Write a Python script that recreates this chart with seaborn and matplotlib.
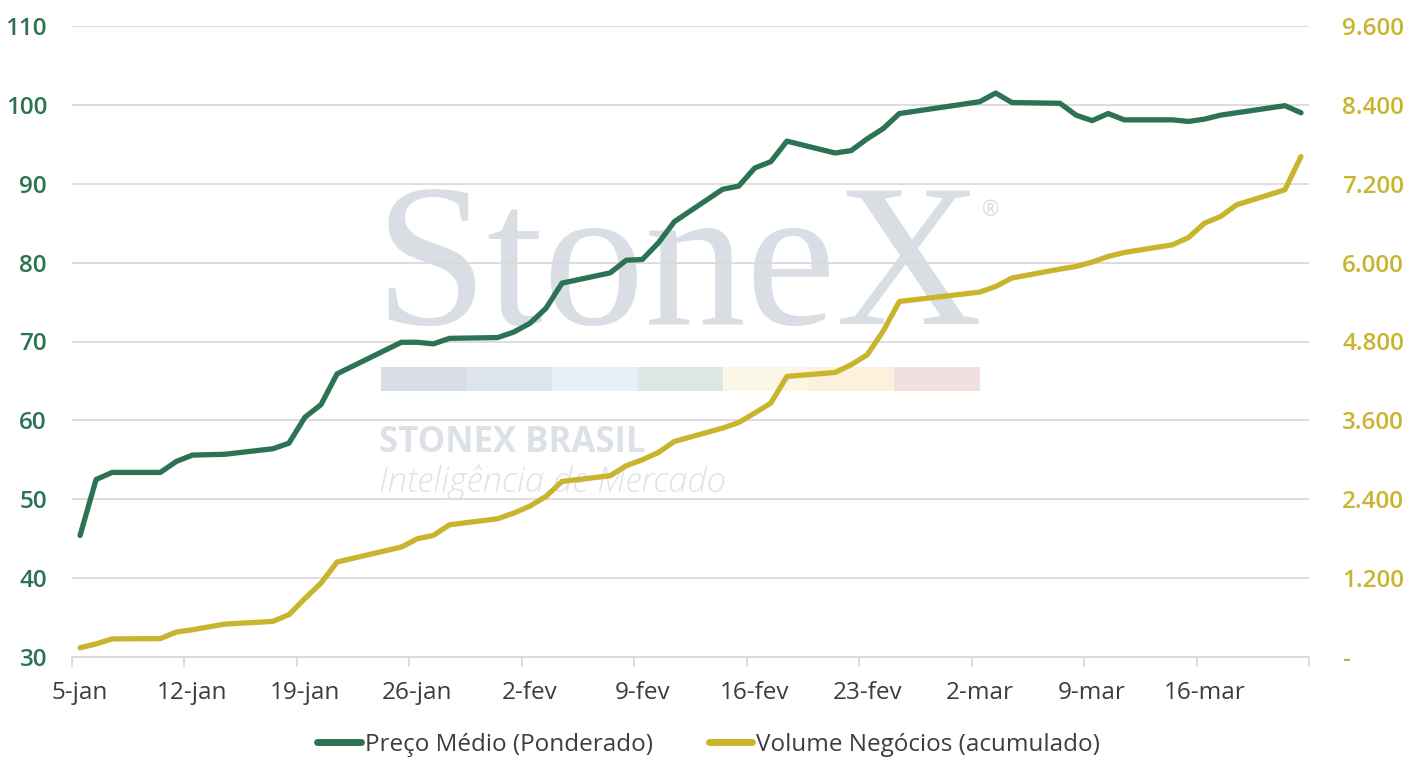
import matplotlib
matplotlib.use("Agg")
import matplotlib.pyplot as plt
import matplotlib.dates as mdates
import matplotlib.ticker as mticker
from matplotlib.patches import Rectangle
from matplotlib.lines import Line2D
import seaborn as sns
import pandas as pd

# =========================================================
# DATA
# =========================================================
dates = [
    "2022-01-05", "2022-01-06", "2022-01-07", "2022-01-10", "2022-01-11", "2022-01-12", "2022-01-14",
    "2022-01-17", "2022-01-18", "2022-01-19", "2022-01-20", "2022-01-21",
    "2022-01-25", "2022-01-26", "2022-01-27", "2022-01-28",
    "2022-01-31", "2022-02-01", "2022-02-02", "2022-02-03", "2022-02-04",
    "2022-02-07", "2022-02-08", "2022-02-09", "2022-02-10", "2022-02-11",
    "2022-02-14", "2022-02-15", "2022-02-16", "2022-02-17", "2022-02-18",
    "2022-02-21", "2022-02-22", "2022-02-23", "2022-02-24", "2022-02-25",
    "2022-03-02", "2022-03-03", "2022-03-04",
    "2022-03-07", "2022-03-08", "2022-03-09", "2022-03-10", "2022-03-11",
    "2022-03-14", "2022-03-15", "2022-03-16", "2022-03-17", "2022-03-18",
    "2022-03-21", "2022-03-22",
]
preco_medio = [
    45.4, 52.5, 53.4, 53.4, 54.8, 55.6, 55.7,
    56.4, 57.1, 60.4, 62.0, 65.9,
    69.9, 69.9, 69.7, 70.4,
    70.5, 71.2, 72.3, 74.2, 77.4,
    78.7, 80.3, 80.4, 82.5, 85.2,
    89.3, 89.7, 92.0, 92.8, 95.4,
    93.9, 94.2, 95.7, 97.0, 98.9,
    100.4, 101.5, 100.3,
    100.2, 98.7, 98.0, 98.9, 98.1,
    98.1, 97.9, 98.2, 98.7, 99.0,
    99.9, 99.0,
]
volume_acum = [
    140, 200, 275, 280, 380, 415, 500,
    542, 643, 890, 1125, 1445,
    1673, 1799, 1850, 2012,
    2103, 2190, 2295, 2443, 2671,
    2758, 2910, 3001, 3112, 3279,
    3483, 3568, 3711, 3863, 4268,
    4329, 4446, 4598, 4960, 5409,
    5551, 5637, 5765,
    5902, 5941, 6008, 6094, 6154,
    6271, 6382, 6601, 6702, 6880,
    7108, 7614,
]
tick_dates = ["2022-01-05", "2022-01-12", "2022-01-19", "2022-01-26", "2022-02-02", "2022-02-09",
              "2022-02-16", "2022-02-23", "2022-03-02", "2022-03-09", "2022-03-16"]
tick_labels = ["5-jan", "12-jan", "19-jan", "26-jan", "2-fev", "9-fev",
               "16-fev", "23-fev", "2-mar", "9-mar", "16-mar"]
left_ticks = [30, 40, 50, 60, 70, 80, 90, 100, 110]
right_ticks = [0, 1200, 2400, 3600, 4800, 6000, 7200, 8400, 9600]
series_names = ["Preço Médio (Ponderado)", "Volume Negócios (acumulado)"]

# =========================================================
# STYLE
# =========================================================
GREEN = "#2b7352"
YELLOW = "#c9b42e"
GRID = "#dcd9da"
TEXT = "#3d3d3d"
WM = "#d9dee5"
FS = 17.5

sns.set_theme(style="white")
plt.rcParams["font.family"] = ["Open Sans", "DejaVu Sans"]

df = pd.DataFrame({"data": pd.to_datetime(dates), "preco": preco_medio, "volume": volume_acum})

W, H = 1417, 768
fig = plt.figure(figsize=(W / 100, H / 100), dpi=100)
ax = fig.add_axes([72 / W, 1 - 657 / H, (1309 - 72) / W, (657 - 26) / H])

# =========================================================
# WATERMARK
# =========================================================
ax.text(375 / W, 1 - 324 / H, "StoneX", transform=fig.transFigure, family="Liberation Serif",
        fontsize=146, color=WM, ha="left", va="baseline", zorder=0.2)
ax.text(982 / W, 1 - 216 / H, "®", transform=fig.transFigure, fontsize=15, color=WM,
        ha="left", va="baseline", zorder=0.2)
band = ["#d8dde5", "#dee4ec", "#e9eff7", "#dfe7e2", "#fbf7e6", "#fdf0dc", "#f2dfe0"]
bw = (980 - 381) / len(band)
for i, c in enumerate(band):
    ax.add_patch(Rectangle(((381 + i * bw) / W, 1 - 391 / H), bw / W, 24 / H,
                           transform=fig.transFigure, color=c, lw=0, zorder=0.2, clip_on=False))
ax.text(379 / W, 1 - 452 / H, "STONEX BRASIL", transform=fig.transFigure, fontsize=25,
        fontweight="bold", color="#dce1e8", ha="left", va="baseline", zorder=0.2)
ax.text(379 / W, 1 - 492 / H, "Inteligência de Mercado", transform=fig.transFigure, fontsize=25,
        fontweight="light", fontstyle="italic", color="#dfe3e9", ha="left", va="baseline", zorder=0.2)

# =========================================================
# LINES
# =========================================================
sns.lineplot(data=df, x="data", y="preco", ax=ax, color=GREEN, linewidth=3.8,
             solid_capstyle="round", solid_joinstyle="round", zorder=3)
ax2 = ax.twinx()
sns.lineplot(data=df, x="data", y="volume", ax=ax2, color=YELLOW, linewidth=3.8,
             solid_capstyle="round", solid_joinstyle="round", zorder=3)

# =========================================================
# AXES
# =========================================================
start = pd.Timestamp(dates[0]) - pd.Timedelta(hours=12)
end = pd.Timestamp(dates[-1]) + pd.Timedelta(hours=12)
ax.set_xlim(start, end)
bounds = pd.date_range(start, end, freq="7D")
ax.xaxis.set_major_locator(mticker.FixedLocator(mdates.date2num(bounds)))
ax.xaxis.set_major_formatter(mticker.NullFormatter())
ax.xaxis.set_minor_locator(mticker.FixedLocator(mdates.date2num(pd.to_datetime(tick_dates))))
ax.xaxis.set_minor_formatter(mticker.FixedFormatter(tick_labels))
ax.tick_params(axis="x", which="major", length=7, width=1.3, color=GRID, bottom=True)
ax.tick_params(axis="x", which="minor", length=0, pad=17, labelsize=FS, labelcolor=TEXT, bottom=True)

ax.set_ylim(30, 110)
ax.set_yticks(left_ticks, labels=[str(v) for v in left_ticks], fontweight="semibold")
ax.tick_params(axis="y", length=0, pad=18, labelsize=FS, labelcolor=GREEN)

ax2.set_ylim(0, 9600)
ax2.set_yticks(right_ticks, labels=["-" if v == 0 else f"{v:,}".replace(",", ".") for v in right_ticks],
               fontweight="semibold")
ax2.tick_params(axis="y", length=0, pad=24, labelsize=FS, labelcolor=YELLOW)

ax.grid(axis="y", color=GRID, linewidth=1.3)
ax.set_axisbelow(True)
for a in (ax, ax2):
    a.set_xlabel("")
    a.set_ylabel("")
    for s in ("top", "left", "right"):
        a.spines[s].set_visible(False)
    a.spines["bottom"].set_color(GRID)
    a.spines["bottom"].set_linewidth(1.3)

# =========================================================
# LEGEND
# =========================================================
handles = [Line2D([], [], color=GREEN, lw=5, solid_capstyle="round"),
           Line2D([], [], color=YELLOW, lw=5, solid_capstyle="round")]
fig.legend(handles, series_names, loc="center", bbox_to_anchor=(0.5, 1 - 745 / H), ncol=2,
           frameon=False, fontsize=FS, handlelength=1.8, handletextpad=0.15,
           columnspacing=2.3, labelcolor=TEXT)

fig.savefig("out.png", dpi=100)
